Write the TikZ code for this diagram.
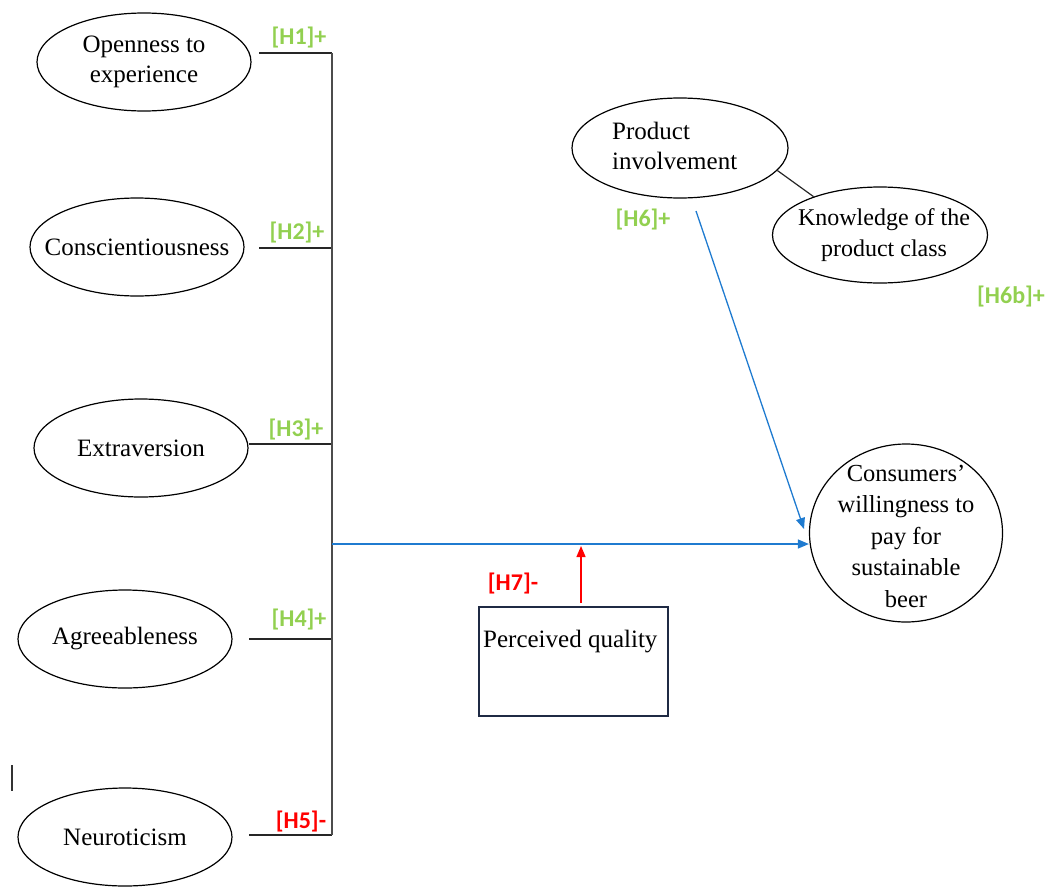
\documentclass[tikz,border=0pt]{standalone}
\usepackage{fontspec}
\setmainfont{Liberation Serif}
\newfontfamily\labfont{Carlito}
\usetikzlibrary{arrows.meta,shapes.geometric}
\definecolor{hgreen}{HTML}{92D050}
\definecolor{hred}{HTML}{FF0000}
\definecolor{hblue}{HTML}{1F7BD0}
\definecolor{boxline}{HTML}{1F2A44}
\begin{document}
\begin{tikzpicture}[x=1pt,y=-1pt,
  every node/.style={font=\fontsize{25}{30.5}\selectfont},
  trait/.style={draw, line width=1.2pt, ellipse, minimum width=214pt, minimum height=98pt, inner sep=0pt},
  txt/.style={align=center, inner sep=0pt},
  hlab/.style={font=\labfont\bfseries\fontsize{24}{26}\selectfont, inner sep=0pt},
  plus/.style={hlab, text=hgreen},
  minus/.style={hlab, text=hred},
  link/.style={line width=1.2pt, draw=black!85},
  barline/.style={line width=1.5pt, draw=black!70},
  bluearr/.style={line width=1.3pt, draw=hblue, -{Triangle[length=11pt,width=9pt]}},
  redarr/.style={line width=1.3pt, draw=hred, -{Triangle[length=11pt,width=9pt]}}
]
\useasboundingbox (0,0) rectangle (1051,886);
% personality traits
\node[trait] (open) at (144,62) {};
\node[txt] (opent) at (open.center) {Openness to\\experience};
\node[trait] (cons) at (137,247) {};
\node[txt] (const) at (cons.center) {Conscientiousness};
\node[trait] (extr) at (141,448) {};
\node[txt] (extrt) at (extr.center) {Extraversion};
\node[trait] (agre) at (125,639) {};
\node[txt] (agret) at (agre.center) {Agreeableness};
\node[trait] (neur) at (125,837) {};
\node[txt] (neurt) at (neur.center) {Neuroticism};
% connector lines
\coordinate (j1) at (332,53);
\coordinate (j2) at (332,248);
\coordinate (j3) at (332,444);
\coordinate (j4) at (332,639);
\coordinate (j5) at (332,835);
\coordinate (s1) at (259,53);
\coordinate (s2) at (259,248);
\coordinate (s3) at (249,444);
\coordinate (s4) at (249,639);
\coordinate (s5) at (249,835);
\draw[link] (s1) -- (j1);
\draw[link] (s2) -- (j2);
\draw[link] (s3) -- (j3);
\draw[link] (s4) -- (j4);
\draw[link] (s5) -- (j5);
\draw[barline] (j1) -- (j5);
\node[plus] (h1) at (299,38) {[H1]+};
\node[plus] (h2) at (297,233) {[H2]+};
\node[plus] (h3) at (296,430) {[H3]+};
\node[plus] (h4) at (299,619) {[H4]+};
\node[minus] (h5) at (301,821) {[H5]-};
% outcome
\node[draw, line width=1.2pt, ellipse, minimum width=193pt, minimum height=178pt, inner sep=0pt] (wtp) at (906,533) {};
\node[txt, font=\fontsize{24.5}{31.5}\selectfont] (wtpt) at (906,536) {Consumers'\\willingness to\\pay for\\sustainable\\beer};
\coordinate (jm) at (332,544);
\draw[bluearr] (jm) -- (wtp.west |- jm);
% product involvement
\node[trait, minimum width=216pt, minimum height=100pt] (pinv) at (680,148) {};
\node[align=left, anchor=west, inner sep=0pt] (pinvt) at (612,146) {Product\\involvement};
\node[trait, minimum width=215pt, minimum height=96pt] (know) at (880,235) {};
\node[txt, font=\fontsize{24}{30.5}\selectfont] (knowt) at (884,235) {Knowledge of the\\product class};
\draw[link] (pinv.-13) -- (know.150);
\node[plus] (h6) at (643,220) {[H6]+};
\node[plus] (h6b) at (1011,297) {[H6b]+};
\coordinate (h6s) at (696,211);
\draw[bluearr] (h6s) -- (804,529);
% perceived quality
\node[draw=boxline, line width=1.3pt, minimum width=189pt, minimum height=109pt, inner sep=0pt] (pq) at (573.5,661.5) {};
\node[anchor=west, inner sep=0pt] (pqt) at (483,642) {Perceived quality};
\coordinate (pqtop) at (581,603);
\draw[redarr] (pqtop) -- (581,546);
\node[minus] (h7) at (513,583) {[H7]-};
% stray mark
\draw[line width=1.2pt, black!80] (12,765) -- (12,791);
\end{tikzpicture}
\end{document}
